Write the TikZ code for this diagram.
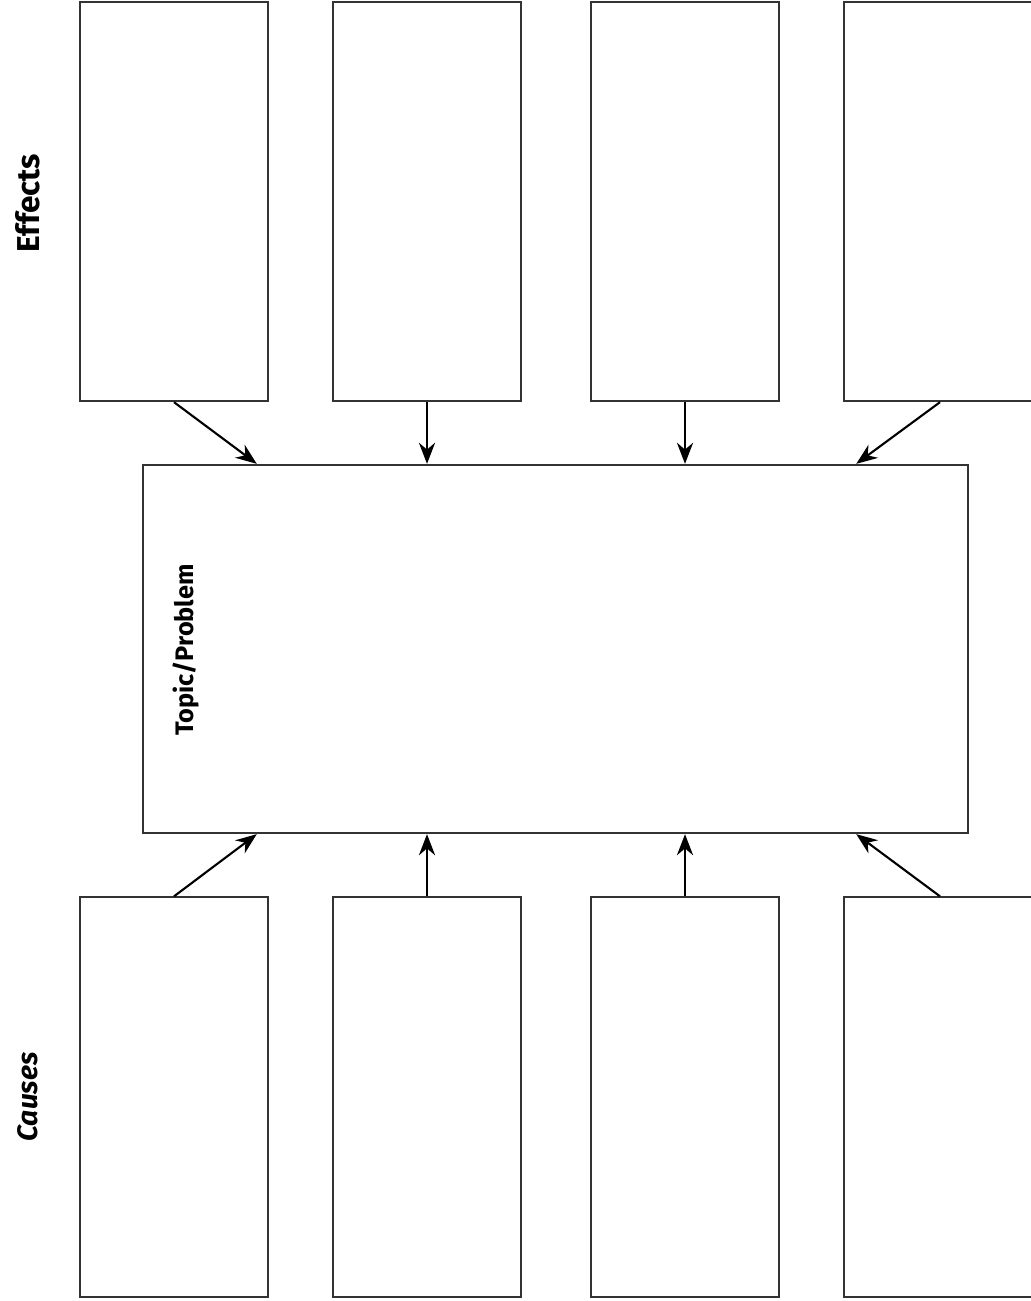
\documentclass[tikz,border=0pt]{standalone}
\usepackage{fontspec}
\setmainfont{Fira Sans}
\usetikzlibrary{arrows.meta}

\tikzset{
  card/.style={draw=black!80, line width=0.6pt, fill=white, minimum width=1.88cm, minimum height=3.99cm, inner sep=0pt},
  link/.style={line width=0.6pt, -{Stealth[length=6pt, width=4.6pt]}},
  tag/.style={rotate=90, font=\fontsize{9}{10}\selectfont\bfseries}
}

\begin{document}
\begin{tikzpicture}[x=0.01cm, y=-0.01cm]
  \useasboundingbox (0,0) rectangle (1030,1301);
  % effects on top, causes below
  \foreach \i/\x/\w in {1/174/1.88cm, 2/427/1.88cm, 3/685/1.88cm, 4/940/1.92cm} {
    \node[card, minimum width=\w] (eff\i) at (\x,201.5) {};
    \node[card, minimum width=\w] (cau\i) at (\x,1097) {};
  }
  \node[draw=black!80, line width=0.6pt, minimum width=8.25cm, minimum height=3.68cm, inner sep=0pt] (topic) at (555.5,649) {};
  \node[tag] (efflab) at (28,203) {Effects}; \node[tag, font=\fontsize{8}{9}\selectfont\bfseries\itshape] (caulab) at (28,1097) {Causes};
  \node[tag, font=\fontsize{7.2}{8}\selectfont\bfseries] (topiclab) at (186,650) {Topic/Problem};
  % arrows into the topic
  \draw[link] (eff1.south) -- ([xshift=1.15cm]topic.north west); \draw[link] (eff2.south) -- (eff2.south |- topic.north);
  \draw[link] (eff3.south) -- (eff3.south |- topic.north); \draw[link] (eff4.south) -- ([xshift=-1.13cm]topic.north east);
  \draw[link] (cau1.north) -- ([xshift=1.15cm]topic.south west); \draw[link] (cau2.north) -- (cau2.north |- topic.south);
  \draw[link] (cau3.north) -- (cau3.north |- topic.south); \draw[link] (cau4.north) -- ([xshift=-1.13cm]topic.south east);
\end{tikzpicture}
\end{document}
